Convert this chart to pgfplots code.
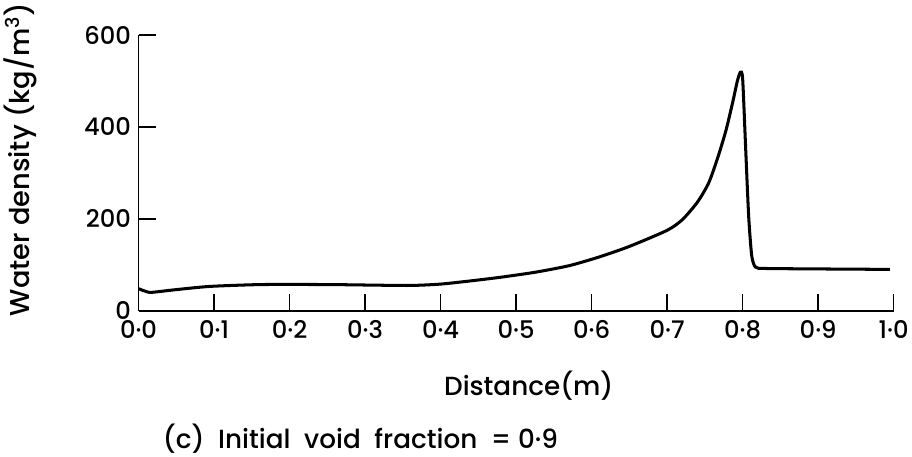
\documentclass[border=0pt]{standalone}
\usepackage{fontspec}
\setmainfont{Poppins}[UprightFont={* Medium}]
\usepackage{pgfplots}
\pgfplotsset{compat=1.18}
\begin{document}
\begin{tikzpicture}
\begin{axis}[
  at={(0,0)}, anchor=south west,
  scale only axis, width=745bp, height=272bp,
  xmin=0, xmax=1, ymin=0, ymax=600,
  axis lines*=left,
  axis line style={line width=1.6pt, -},
  xtick={0,0.1,...,1.0},
  xticklabels={0·0,0·1,0·2,0·3,0·4,0·5,0·6,0·7,0·8,0·9,1·0},
  ytick={0,200,400,600},
  tick align=inside,
  major tick length=17bp,
  tick style={draw=black, line width=1.5pt},
  /pgf/number format/assume math mode=true,
  ticklabel style={font=\fontsize{24}{28}\selectfont},
  xticklabel style={yshift=-6bp},
  yticklabel style={xshift=-4bp},
]
\addplot[line width=3pt, black, smooth, tension=0.4] coordinates {
(0.000,48) (0.008,43) (0.017,40) (0.05,46) (0.095,53) (0.163,57) (0.25,57)
(0.30,56) (0.36,55) (0.40,58) (0.44,65) (0.48,73) (0.526,84) (0.57,98)
(0.61,117) (0.65,140) (0.70,175) (0.72,198) (0.74,236) (0.755,278)
(0.767,333) (0.778,393) (0.787,455) (0.793,500) (0.797,519) (0.800,505) (0.804,353)
(0.808,205) (0.812,120) (0.817,95) (0.83,92) (0.90,91) (0.995,90)
};
\end{axis}
\node[rotate=90, font=\fontsize{27}{30}\selectfont] at (-117bp,149bp) {Water density (kg/m\textsuperscript{3})};
\node[font=\fontsize{26}{30}\selectfont] at (385bp,-74bp) {Distance(m)};
\node[font=\fontsize{26}{30}\selectfont] at (219bp,-126bp) {(c)\ \ Initial\ \ void\ \ fraction\ \ =\ 0·9};
\end{tikzpicture}
\end{document}
